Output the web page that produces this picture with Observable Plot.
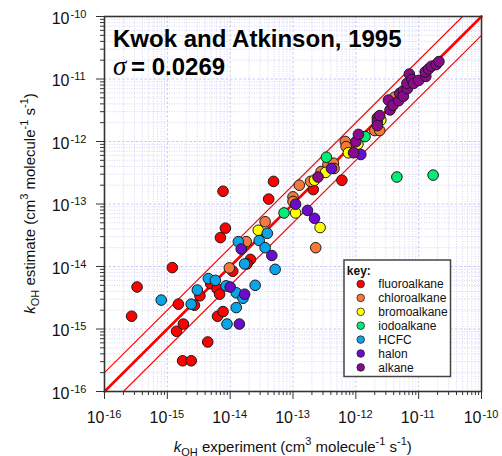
<!DOCTYPE html>
<html><head><meta charset="utf-8">
<script src="https://cdn.jsdelivr.net/npm/d3@7"></script>
<script src="https://cdn.jsdelivr.net/npm/@observablehq/plot@0.6"></script>
<style>
body{margin:0;background:#fff;font-family:"Liberation Sans",Arial,sans-serif}
#wrap{position:relative;width:502px;height:456px}
</style></head>
<body><div id="wrap"></div>
<script>
// ---- data: [k_OH experiment, k_OH estimate] (cm3 molecule-1 s-1) ----
const categories = ["fluoroalkane","chloroalkane","bromoalkane","iodoalkane","HCFC","halon","alkane"];
const colors = ["#ff0000","#f5793a","#ffff00","#00ee77","#0aa5e8","#6b0ccc","#8b0a8b"];
const fluoroalkane = [[2.7e-16,1.6e-15],[3.3e-16,4.7e-15],[1.2e-15,9.6e-15],[1.5e-15,2.5e-15],[1.4e-15,9.2e-16],[1.8e-15,1.2e-15],[1.75e-15,3.1e-16],[2.4e-15,3.1e-16],[2.7e-15,2.4e-15],[3.3e-15,3.4e-15],[4.4e-15,6.2e-16],[4.9e-15,5.3e-15],[6.2e-15,4.4e-15],[6.8e-15,3.6e-15],[6.3e-15,1.6e-15],[7e-15,2.9e-14],[7.7e-15,1.9e-15],[7.7e-15,1.6e-13],[8.4e-15,4.1e-14],[4.9e-14,2.3e-13],[4.1e-14,1.2e-13],[2.1e-14,1.3e-14],[1.85e-14,1.1e-14],[1.1e-14,8.4e-15],[1.6e-14,2.3e-14],[2.1e-13,1.7e-13],[6.0e-13,2.4e-13]];
const chloroalkane = [[9.7e-15,9.5e-15],[1.8e-14,2.5e-14],[3.6e-14,5.2e-14],[2.3e-13,2.0e-14],[1.0e-13,1.3e-13],[1.0e-13,1.1e-13],[1.26e-13,2.0e-13],[1.9e-13,2.3e-13],[2.8e-13,3.3e-13],[3.6e-13,4.3e-13],[4.4e-13,4.5e-13],[4.5e-13,3.7e-13],[6.8e-13,1.0e-12],[7.0e-13,8.3e-13],[2.0e-12,1.5e-12],[2.4e-12,1.5e-12],[4.1e-12,5.1e-12]];
const bromoalkane = [[2.8e-14,3.8e-14],[1.1e-13,7.2e-14],[2.7e-13,4.2e-14],[2.2e-13,2.4e-13],[3.3e-13,3.2e-13],[7.6e-13,6.6e-13],[1.08e-12,9.1e-13],[2.5e-12,2.2e-12]];
const iodoalkane = [[7.2e-14,7.2e-14],[3.4e-13,5.6e-13],[1.4e-12,1.2e-12],[4.5e-12,2.7e-13],[1.7e-11,2.9e-13]];
const HCFC = [[8.0e-16,2.9e-15],[2.4e-15,2.5e-15],[3.0e-15,4.2e-15],[4.5e-15,6.4e-15],[5.8e-15,6.0e-15],[8.6e-15,4.9e-15],[1.25e-14,3.8e-15],[1.6e-14,3.1e-15],[2.5e-14,5.0e-15],[1.25e-14,2.2e-15],[8.9e-15,1.2e-15],[1.35e-14,2.5e-14],[1.7e-14,1.1e-14],[2.9e-14,2.6e-14],[3.9e-14,3.4e-14],[3.6e-14,2.0e-14],[5.2e-14,9.0e-15]];
const halon = [[1.5e-14,1.9e-14],[4.6e-14,1.5e-14],[1.0e-14,4.7e-15],[1.7e-14,3.6e-15],[1.4e-14,1.2e-15],[1.1e-13,9.9e-14],[1.7e-13,7.9e-14],[2.2e-13,5.9e-14],[4.1e-13,3.7e-13],[1.2e-12,6.2e-13]];
const alkane = [[2.5e-13,2.7e-13],[9.2e-13,6.6e-13],[1.0e-12,9.9e-13],[1.1e-12,1.3e-12],[2.2e-12,2.4e-12],[2.2e-12,2.1e-12],[2.2e-12,1.8e-12],[2.4e-12,2.6e-12],[3.3e-12,4.6e-12],[3.5e-12,3.2e-12],[3.9e-12,3.8e-12],[4.8e-12,4.5e-12],[5.0e-12,5.9e-12],[5.7e-12,6.5e-12],[5.7e-12,5.3e-12],[6.6e-12,7.0e-12],[6.5e-12,8.5e-12],[7.1e-12,1.2e-11],[7.8e-12,9.8e-12],[8.3e-12,8.5e-12],[1.0e-11,9.5e-12],[1.3e-11,1.1e-11],[1.27e-11,1.3e-11],[1.43e-11,1.44e-11],[1.6e-11,1.6e-11],[1.9e-11,1.7e-11],[2.1e-11,1.9e-11]];
const decades = [1e-16,1e-15,1e-14,1e-13,1e-12,1e-11,1e-10];
const decadeExponents = ["-16","-15","-14","-13","-12","-11","-10"];
const unityLine = [[1e-16,1e-16],[1e-10,1e-10]];
const upperLine = [[1e-16,2e-16],[5e-11,1e-10]];
const lowerLine = [[2e-16,1e-16],[1e-10,5e-11]];
const titleText = "Kwok and Atkinson, 1995";
const sigmaText = "= 0.0269";

// ---- build ----
const series = [fluoroalkane,chloroalkane,bromoalkane,iodoalkane,HCFC,halon,alkane];
const points = [];
series.forEach((s,i)=>s.forEach(([x,y])=>points.push({x,y,cat:categories[i]})));
const minor = [];
decades.slice(0,-1).forEach(d=>{for(let m=2;m<=9;m++) minor.push(m*d);});
const FONT = '"Liberation Sans", Arial, sans-serif';
const gridColor = "#c9c9f4";

const svg = Plot.plot({
  width: 502, height: 456,
  marginLeft: 104, marginRight: 21, marginTop: 16, marginBottom: 65,
  style: {fontFamily: FONT, background: "white"},
  x: {type: "log", domain: [1e-16,1e-10]},
  y: {type: "log", domain: [1e-16,1e-10]},
  color: {domain: categories, range: colors},
  marks: [
    Plot.ruleX(minor, {x: d=>d, stroke: gridColor, strokeWidth: 0.8, strokeDasharray: "1,1.5"}),
    Plot.ruleY(minor, {y: d=>d, stroke: gridColor, strokeWidth: 0.8, strokeDasharray: "1,1.5"}),
    Plot.ruleX(decades, {x: d=>d, stroke: gridColor, strokeWidth: 1, strokeDasharray: "2.5,2"}),
    Plot.ruleY(decades, {y: d=>d, stroke: gridColor, strokeWidth: 1, strokeDasharray: "2.5,2"}),
    Plot.line(upperLine, {x: d=>d[0], y: d=>d[1], stroke: "#ff0000", strokeWidth: 1.1}),
    Plot.line(lowerLine, {x: d=>d[0], y: d=>d[1], stroke: "#ff0000", strokeWidth: 1.1}),
    Plot.line(unityLine, {x: d=>d[0], y: d=>d[1], stroke: "#ff0000", strokeWidth: 2.6}),
    Plot.dot(points, {x: "x", y: "y", fill: "cat", r: 5.3, stroke: "#1a1a1a", strokeWidth: 1, fillOpacity: 1}),
    Plot.frame({stroke: "#333", strokeWidth: 1.6}),
    Plot.axisX({ticks: decades, tickSize: 8, tickFormat: ()=>"", label: null, stroke: "#333"}),
    Plot.axisX({ticks: minor, tickSize: 4, tickFormat: ()=>"", label: null, stroke: "#333"}),
    Plot.axisY({ticks: decades, tickSize: 8, tickFormat: ()=>"", label: null, stroke: "#333"}),
    Plot.axisY({ticks: minor, tickSize: 4, tickFormat: ()=>"", label: null, stroke: "#333"}),
    Plot.text(decades, {x: d=>d, frameAnchor: "bottom", text: ()=>"10", textAnchor: "end", lineAnchor: "bottom", dy: 31, fontSize: 16, fill: "#111"}),
    Plot.text(decades, {x: d=>d, frameAnchor: "bottom", text: (d,i)=>decadeExponents[i], textAnchor: "start", lineAnchor: "bottom", dx: 1, dy: 26, fontSize: 11, fill: "#111"}),
    Plot.text(decades, {y: d=>d, frameAnchor: "left", text: ()=>"10", textAnchor: "end", lineAnchor: "bottom", dx: -35, dy: 7, fontSize: 16, fill: "#111"}),
    Plot.text(decades, {y: d=>d, frameAnchor: "left", text: (d,i)=>decadeExponents[i], textAnchor: "start", lineAnchor: "bottom", dx: -34, dy: 1, fontSize: 11, fill: "#111"}),
    Plot.text([titleText], {frameAnchor: "top-left", text: d=>d, textAnchor: "start", lineAnchor: "bottom", dx: 8.5, dy: 30, fontSize: 24, fontWeight: "bold", fill: "#000"}),
    Plot.text(["σ"], {frameAnchor: "top-left", text: d=>d, textAnchor: "start", lineAnchor: "bottom", dx: 8.5, dy: 58.5, fontSize: 27, fontStyle: "italic", fontFamily: '"Liberation Serif", serif', fill: "#000"}),
    Plot.text([sigmaText], {frameAnchor: "top-left", text: d=>d, textAnchor: "start", lineAnchor: "bottom", dx: 26.5, dy: 58.5, fontSize: 24, fontWeight: "bold", fill: "#000"})
  ]
});
document.getElementById("wrap").appendChild(svg);

// ---- axis titles with sub/superscripts ----
const s = d3.select(svg);
function axisTitle(g, label) {
  const t = g.append("text").attr("font-size", 15).attr("fill", "#111").attr("font-family", FONT).attr("text-anchor", "middle");
  t.append("tspan").attr("font-style", "italic").text("k");
  t.append("tspan").attr("font-size", 11).attr("dy", 4).text("OH");
  t.append("tspan").attr("dy", -4).text(" " + label + " (cm");
  t.append("tspan").attr("font-size", 11).attr("dy", -7).text("3");
  t.append("tspan").attr("dy", 7).text(" molecule");
  t.append("tspan").attr("font-size", 11).attr("dy", -7).text("-1");
  t.append("tspan").attr("dy", 7).text(" s");
  t.append("tspan").attr("font-size", 11).attr("dy", -7).text("-1");
  t.append("tspan").attr("dy", 7).text(")");
  return t;
}
axisTitle(s.append("g").attr("transform", "translate(292.8,451.5)"), "experiment");
axisTitle(s.append("g").attr("transform", "translate(35,203.5) rotate(-90)"), "estimate");

// ---- legend (key) ----
const lg = s.append("g").attr("transform", "translate(344,260)").attr("text-anchor", "start");
lg.append("rect").attr("width", 106.5).attr("height", 116.5).attr("fill", "white").attr("stroke", "#444").attr("stroke-width", 1.5);
lg.append("text").attr("x", 2.8).attr("y", 15).attr("text-anchor", "start").attr("font-size", 12).attr("font-weight", "bold").attr("font-family", FONT).attr("fill", "#111").text("key:");
categories.forEach((c,i)=>{
  const yy = 24 + i*13.9;
  lg.append("circle").attr("cx", 16.7).attr("cy", yy).attr("r", 3.8).attr("fill", colors[i]).attr("stroke", "#222").attr("stroke-width", 0.8);
  lg.append("text").attr("x", 34.3).attr("y", yy + 4.3).attr("text-anchor", "start").attr("font-size", 12).attr("font-family", FONT).attr("fill", "#111").text(c);
});
</script></body></html>
